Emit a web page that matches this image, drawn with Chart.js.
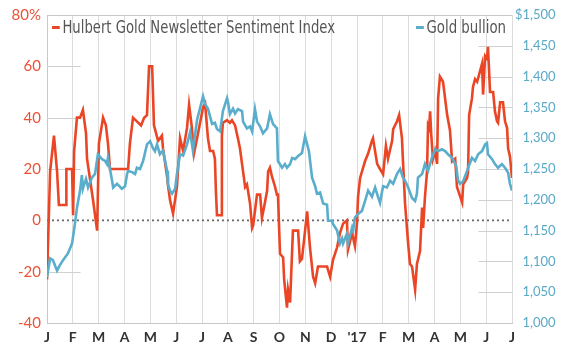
<!DOCTYPE html>
<html>
<head>
<meta charset="utf-8">
<script src="https://cdn.jsdelivr.net/npm/chart.js@4/dist/chart.umd.min.js"></script>
<style>
  html, body { margin: 0; padding: 0; background: #fff; }
  #wrap { position: relative; width: 568px; height: 352px; }
  canvas { position: absolute; left: 0; top: 0; }
  .leg { position: absolute; font-family: "Liberation Sans Narrow", "DejaVu Sans Condensed", "Liberation Sans", sans-serif; font-size: 17px; color: #555; white-space: nowrap; line-height: 20px; transform-origin: 0 50%; }
  .leg .dash { display: inline-block; width: 9px; height: 3px; vertical-align: middle; margin-right: 3px; position: relative; top: -1px; }
</style>
</head>
<body>
<div id="wrap">
  <canvas id="c" width="568" height="352"></canvas>
  <div class="leg" id="leg1" style="left:52px; top:17px;"><span class="dash" style="background:#e8472d"></span>Hulbert Gold Newsletter Sentiment Index</div>
  <div class="leg" id="leg2" style="left:416px; top:17px;"><span class="dash" style="background:#5aaecb"></span>Gold bullion</div>
</div>
<script>
// Month tick labels, Jan 2016 .. Jul 2017
const monthLabels = ['J','F','M','A','M','J','J','A','S','O','N','D',"'17",'F','M','A','M','J','J'];

// Hulbert Gold Newsletter Sentiment Index (%), time in months since Jan 2016
const hulbertMonths = [0,0.12,0.27,0.39,0.46,0.74,0.75,0.97,1.01,1.05,1.16,1.28,1.39,1.51,1.55,1.78,1.94,2.01,2.17,2.28,2.36,2.44,3.14,3.21,3.33,3.64,3.76,3.87,3.95,4.07,4.14,4.30,4.45,4.49,4.65,4.68,4.76,4.88,5.03,5.15,5.27,5.42,5.50,5.61,5.69,5.81,6.04,6.12,6.23,6.31,6.43,6.50,6.54,6.58,6.74,6.77,6.81,6.97,7.08,7.16,7.28,7.39,7.47,7.59,7.67,7.74,7.86,7.94,7.98,8.13,8.25,8.32,8.40,8.52,8.56,8.63,8.71,8.83,8.90,8.94,9.02,9.14,9.18,9.29,9.33,9.41,9.52,9.72,9.79,9.87,9.99,10.07,10.18,10.30,10.38,10.49,10.84,10.96,11.07,11.23,11.34,11.46,11.61,11.65,11.81,11.92,12.00,12.04,12.12,12.31,12.43,12.58,12.62,12.78,12.89,13.01,13.12,13.20,13.36,13.40,13.55,13.63,13.74,13.78,13.86,13.98,14.05,14.13,14.25,14.32,14.44,14.52,14.56,14.63,14.71,14.75,14.79,14.83,14.87,14.94,15.02,15.10,15.14,15.21,15.33,15.49,15.60,15.68,15.80,15.87,16.07,16.11,16.26,16.30,16.34,16.45,16.49,16.57,16.65,16.76,16.84,16.88,16.96,17.03,17.07,17.15,17.27,17.34,17.42,17.46,17.54,17.65,17.73,17.81,17.85,17.92,18.00];
const hulbertValues = [-23,19,33,19,6,6,20,20,2,27,40,40,43,34,24,8,-4,30,40,37,30,20,20,30,40,37,40,41,60,60,37,31,33,28,17,14,8,2.6,13,32,27,36,45,36,26,32,44,45.5,32,27,27,24,11,2,2,33,38,39,38,39,37,32,28,19,13,14,6.5,-3,-2,10,10,1,5,11.5,19,20.5,17,13,10,10,-13,-14.5,-23,-34,-27,-32,-4,-4,-16,-15,-4,3.5,-10.5,-22,-24.5,-18,-18,-22,-15.5,-10.5,-5,-1.3,0,-11.5,-5,-10,-1,9,16.5,23,26,31,32,22,20,18,29,24,31,35.5,38.6,41,32,23,6.5,-9,-17,-18,-27,-17,-12,5,-3,9,19,37,36,42.5,34,24,27,22,47.5,56,54,41,35,23,24,13,7,14,16.5,19,41,47.5,52,55,54,58,61,49,64,63,67.6,50,50,42.5,38.6,38,46,46,38.6,36,28,25,16.5];

// Gold bullion ($/oz), time in months since Jan 2016
const goldMonths = [0,0.12,0.23,0.39,0.50,0.62,0.81,0.97,1.08,1.16,1.28,1.35,1.39,1.51,1.59,1.74,1.86,1.97,2.13,2.25,2.32,2.36,2.52,2.56,2.71,2.90,3.02,3.10,3.14,3.29,3.41,3.48,3.60,3.72,3.87,3.99,4.10,4.18,4.26,4.37,4.49,4.65,4.68,4.76,4.84,4.96,5.03,5.15,5.27,5.42,5.54,5.65,5.81,5.92,6.04,6.12,6.23,6.39,6.50,6.58,6.70,6.81,6.97,7.01,7.08,7.20,7.28,7.39,7.55,7.59,7.74,7.86,7.94,8.05,8.13,8.25,8.36,8.52,8.63,8.75,8.90,8.94,9.10,9.21,9.29,9.41,9.49,9.60,9.72,9.87,9.99,10.07,10.14,10.26,10.38,10.45,10.57,10.69,10.84,10.88,11.03,11.07,11.23,11.34,11.42,11.46,11.61,11.65,11.81,11.85,11.92,12.04,12.19,12.31,12.43,12.58,12.70,12.81,12.89,13.01,13.16,13.28,13.40,13.55,13.67,13.78,13.86,13.98,14.13,14.25,14.32,14.36,14.52,14.63,14.75,14.90,15.02,15.14,15.29,15.41,15.52,15.68,15.84,15.91,15.99,16.11,16.26,16.30,16.45,16.57,16.69,16.84,16.96,17.03,17.07,17.23,17.34,17.46,17.61,17.73,17.85,17.92,18.00];
const goldValues = [1074,1105,1102,1085,1094,1102,1113,1129,1161,1187,1215,1240,1218,1234,1220,1236,1242,1274,1266,1263,1258,1268,1231,1220,1226,1218,1222,1242,1247,1245,1242,1252,1250,1263,1290,1295,1284,1279,1290,1274,1280,1247,1226,1215,1210,1218,1242,1274,1272,1290,1310,1280,1330,1348,1368,1355,1348,1323,1325,1315,1311,1344,1365,1358,1339,1348,1340,1347,1344,1327,1316,1319,1311,1347,1327,1319,1308,1316,1339,1323,1316,1263,1252,1258,1252,1258,1268,1266,1271,1276,1303,1290,1279,1236,1222,1210,1212,1194,1192,1166,1166,1161,1150,1129,1137,1129,1145,1129,1155,1150,1171,1177,1182,1198,1215,1205,1220,1205,1195,1222,1220,1231,1226,1242,1250,1236,1231,1220,1203,1198,1210,1236,1242,1258,1247,1268,1282,1279,1282,1279,1274,1268,1255,1232,1226,1230,1247,1252,1268,1263,1274,1279,1290,1292,1274,1266,1258,1252,1258,1252,1244,1226,1215];

const leftTicks = [-40,-20,0,20,40,60,80];

const RED = '#ea4626';
const BLUE = '#5aaecb';

const toXY = (xs, ys) => xs.map((x, i) => ({ x: x, y: ys[i] }));

// fit legend text widths to the reference
function fitLegend(id, targetWidth) {
  const el = document.getElementById(id);
  const w = el.getBoundingClientRect().width;
  el.style.transform = 'scaleX(' + (targetWidth / w) + ')';
}
fitLegend('leg1', 283);
fitLegend('leg2', 90);

const decorPlugin = {
  id: 'decor',
  beforeDatasetsDraw(chart) {
    const { ctx, chartArea, scales } = chart;
    const x = scales.x, yl = scales.yL, yr = scales.yR;
    ctx.save();
    ctx.strokeStyle = '#c8c8c8';
    ctx.lineWidth = 1;
    ctx.beginPath();
    ctx.moveTo(chartArea.left, Math.round(yl.getPixelForValue(80)) + 0.5);
    ctx.lineTo(chartArea.right, Math.round(yl.getPixelForValue(80)) + 0.5);
    ctx.stroke();
    ctx.strokeStyle = '#d0d0d0';
    leftTicks.forEach(v => {
      if (v === 80 || v === 0 || v === -40) return;
      const py = Math.round(yl.getPixelForValue(v)) + 0.5;
      ctx.beginPath();
      ctx.moveTo(x.getPixelForValue(0), py);
      ctx.lineTo(x.getPixelForValue(1.3), py);
      ctx.stroke();
    });
    yr.ticks.forEach(t => {
      if (t.value === 1500 || t.value === 1000) return;
      const py = Math.round(yr.getPixelForValue(t.value)) + 0.5;
      ctx.beginPath();
      ctx.moveTo(x.getPixelForValue(16.7), py);
      ctx.lineTo(x.getPixelForValue(18), py);
      ctx.stroke();
    });
    ctx.strokeStyle = '#666';
    ctx.lineWidth = 1.6;
    ctx.setLineDash([2, 3]);
    const z = yl.getPixelForValue(0);
    ctx.beginPath();
    ctx.moveTo(chartArea.left, z);
    ctx.lineTo(chartArea.right, z);
    ctx.stroke();
    ctx.restore();
  }
};

new Chart(document.getElementById('c'), {
  type: 'line',
  data: {
    datasets: [
      {
        label: 'Gold bullion',
        data: toXY(goldMonths, goldValues),
        yAxisID: 'yR',
        borderColor: BLUE,
        borderWidth: 2.6,
        pointRadius: 0,
        tension: 0,
        order: 1
      },
      {
        label: 'Hulbert Gold Newsletter Sentiment Index',
        data: toXY(hulbertMonths, hulbertValues),
        yAxisID: 'yL',
        borderColor: RED,
        borderWidth: 2.6,
        pointRadius: 0,
        tension: 0,
        order: 2
      }
    ]
  },
  options: {
    responsive: false,
    animation: false,
    layout: { padding: { top: 13, right: 12, left: 0, bottom: 0 } },
    plugins: { legend: { display: false }, tooltip: { enabled: false } },
    scales: {
      x: {
        type: 'linear',
        min: 0,
        max: 18,
        afterFit: s => { s.height = 29; },
        ticks: {
          stepSize: 1,
          autoSkip: false,
          maxRotation: 0,
          padding: 6,
          color: '#333',
          font: { family: 'Lato', size: 14, weight: 'bold' },
          callback: v => monthLabels[v]
        },
        grid: { color: '#dcdcdc', lineWidth: 1, drawTicks: false },
        border: { display: true, color: '#c8c8c8' }
      },
      yL: {
        position: 'left',
        min: -40,
        max: 80,
        afterFit: s => { s.width = 47; },
        afterBuildTicks: s => { s.ticks = leftTicks.map(v => ({ value: v })); },
        ticks: {
          padding: 6,
          color: '#e8533a',
          font: { family: 'Lato', size: 15 },
          callback: v => v === 80 ? '80%' : String(v)
        },
        grid: { display: false, drawTicks: false },
        border: { display: true, color: '#c8c8c8' }
      },
      yR: {
        position: 'right',
        min: 1000,
        max: 1500,
        afterFit: s => { s.width = 44; },
        ticks: {
          stepSize: 50,
          padding: 3,
          crossAlign: 'near',
          color: '#5aa9c6',
          font: { family: 'Lato', size: 13 },
          callback: v => (v === 1500 ? '$' : '\u2007') + v.toLocaleString('en-US')
        },
        grid: { display: false, drawTicks: false },
        border: { display: false }
      }
    }
  },
  plugins: [decorPlugin]
});
</script>
</body>
</html>
